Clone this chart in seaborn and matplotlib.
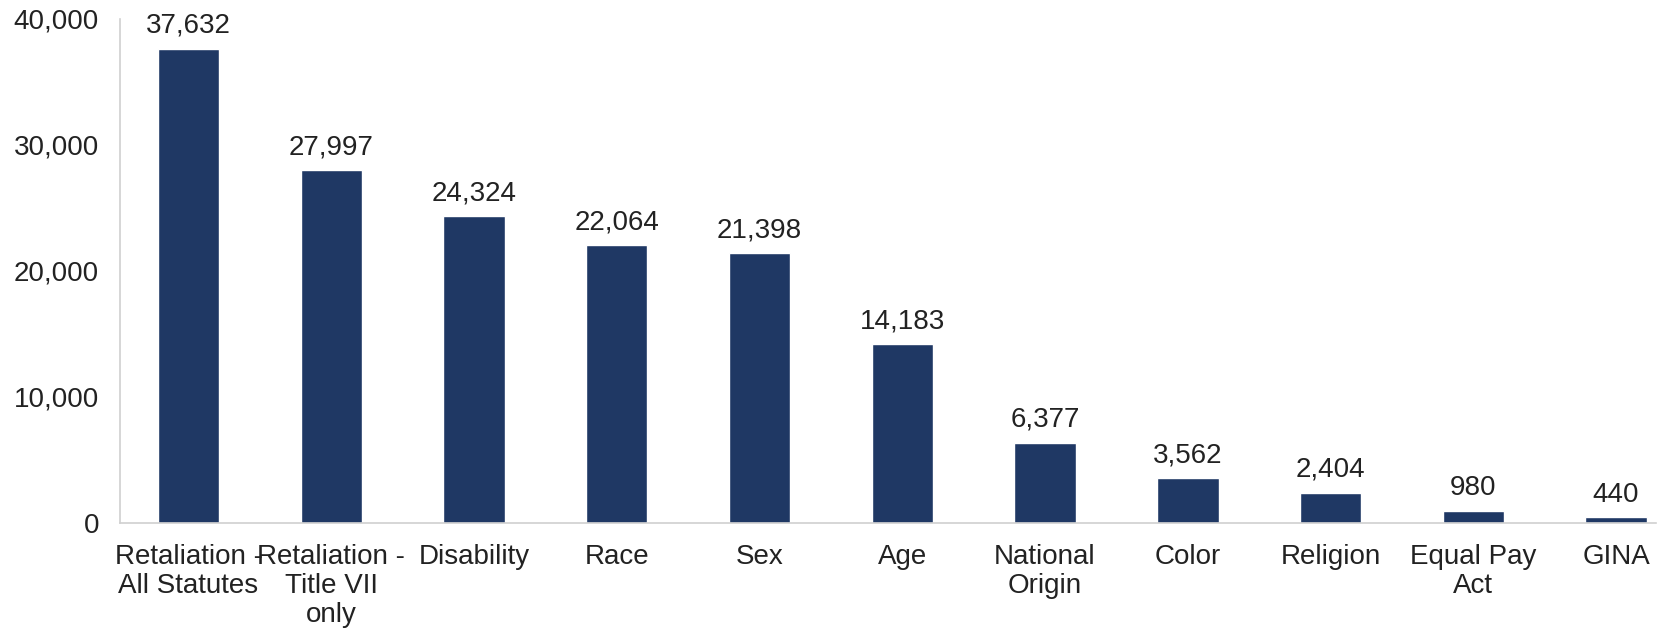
import matplotlib
matplotlib.use("Agg")
import matplotlib.pyplot as plt
import seaborn as sns
import pandas as pd

categories = ["Retaliation -\nAll Statutes", "Retaliation -\nTitle VII\nonly", "Disability",
              "Race", "Sex", "Age", "National\nOrigin", "Color", "Religion",
              "Equal Pay\nAct", "GINA"]
values = [37632, 27997, 24324, 22064, 21398, 14183, 6377, 3562, 2404, 980, 440]
yticks = [0, 10000, 20000, 30000, 40000]

sns.set_theme(style="white")
plt.rcParams['font.family'] = ['Liberation Sans', 'DejaVu Sans']

df = pd.DataFrame({"cat": categories, "val": values})

fig = plt.figure(figsize=(16.75, 6.29), dpi=100)
ax = fig.add_axes([0.0716, 0.1685, 0.9171, 0.8015])
sns.barplot(data=df, x="cat", y="val", color="#1F3864", saturation=1, width=0.43, ax=ax)

ax.set_xlim(-0.48, 10.28)
ax.set_ylim(0, 40000)
ax.set_yticks(yticks)
ax.set_yticklabels([f"{v:,}" for v in yticks])
ax.set_xlabel("")
ax.set_ylabel("")
ax.tick_params(axis="both", length=0, labelsize=20, colors="#222222")
ax.tick_params(axis="y", pad=15)
ax.tick_params(axis="x", pad=15)
for lbl in ax.get_xticklabels():
    lbl.set_linespacing(1.15)

for s in ["top", "right"]:
    ax.spines[s].set_visible(False)
for s in ["left", "bottom"]:
    ax.spines[s].set_color("#D0D0D0")
    ax.spines[s].set_linewidth(1.2)

for c in ax.containers:
    ax.bar_label(c, labels=[f"{v:,}" for v in values], padding=7, fontsize=20, color="#222222")

fig.savefig("out.png", dpi=100)
